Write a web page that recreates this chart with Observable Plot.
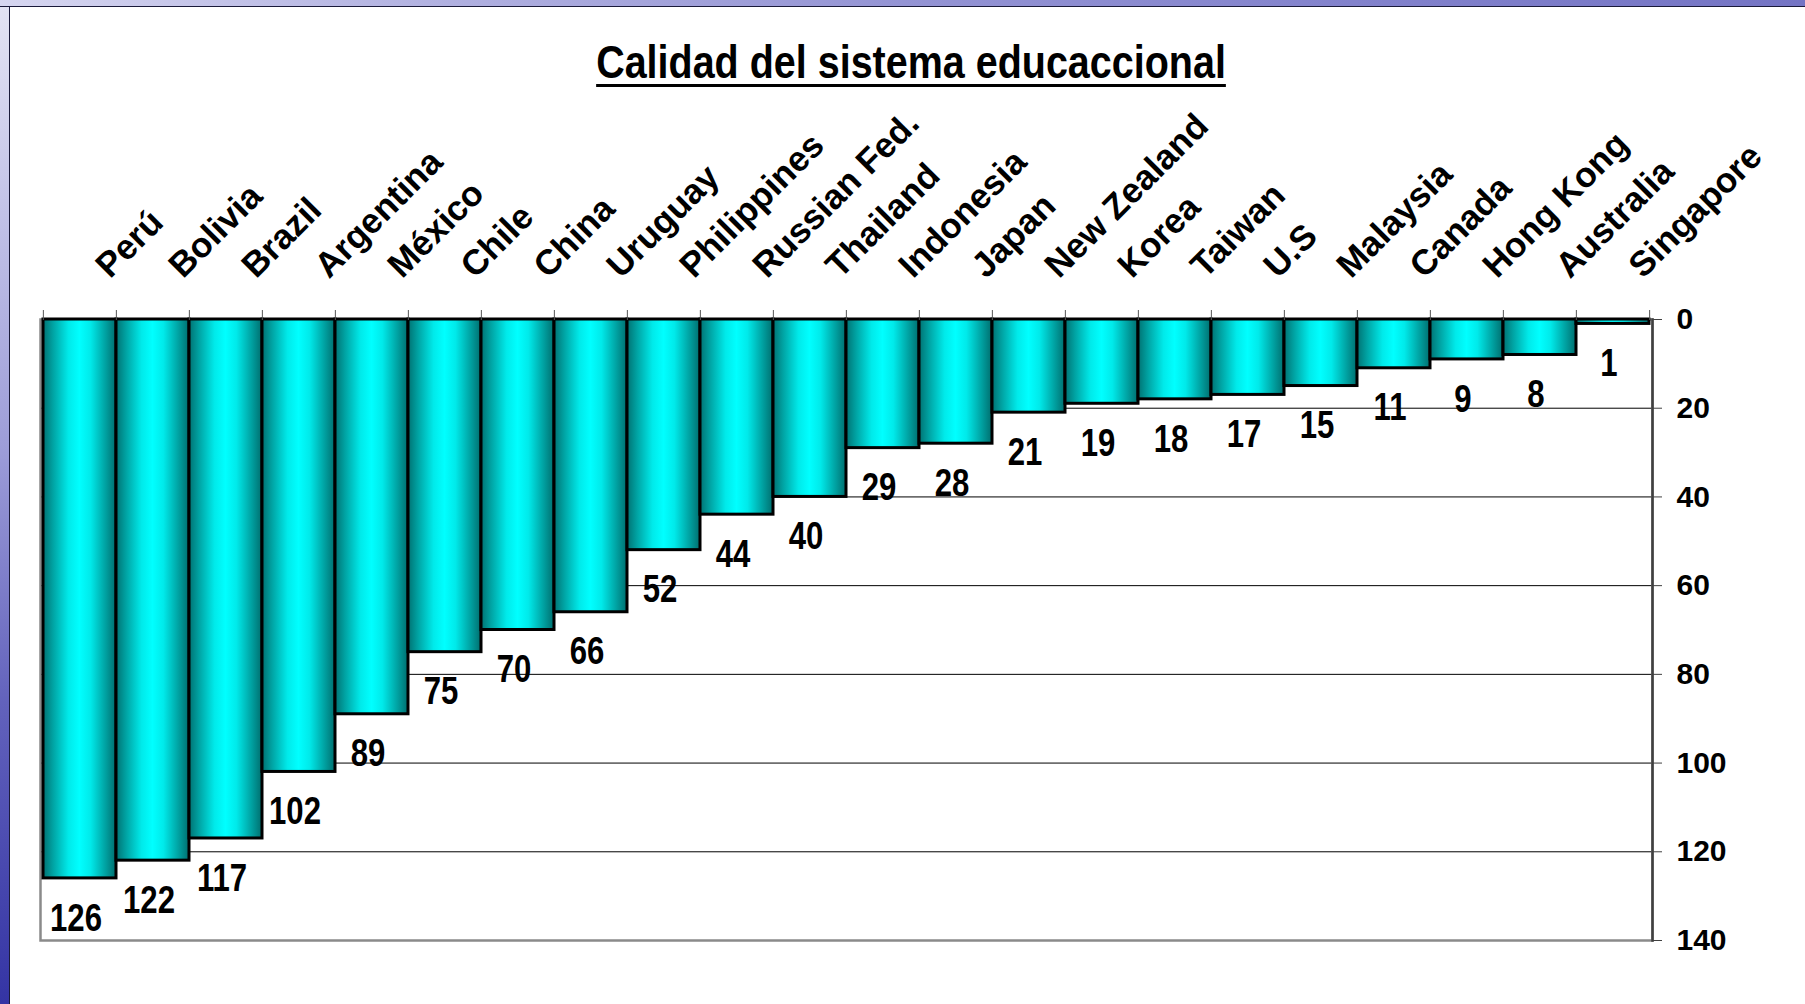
<!DOCTYPE html>
<html>
<head>
<meta charset="utf-8">
<script src="https://cdn.jsdelivr.net/npm/d3@7"></script>
<script src="https://cdn.jsdelivr.net/npm/@observablehq/plot@0.6"></script>
<style>
  html, body { margin: 0; padding: 0; background: #fff; }
  #wrap { position: relative; width: 1805px; height: 1004px; overflow: hidden; background: #fff; }
  #leftband { position: absolute; left: 0; top: 0; width: 9px; height: 1004px; z-index: 5;
    background: linear-gradient(to bottom, #e4e4f4 0%, #c4c4e8 20%, #9c9cd8 45%, #6262bc 70%, #3434a4 100%);
    border-right: 1.5px solid #1a1a3a; }
  #topband { position: absolute; left: 0; top: 0; width: 1805px; height: 6px; z-index: 6;
    background: linear-gradient(to right, #d6d6f0 0%, #b0b0e0 25%, #9494d4 50%, #8282cc 75%, #7474c4 100%);
    border-bottom: 1.5px solid #1a1a3a; }
  #titlebox { position: relative; height: 100px; }
  #titlebox span { position: absolute; left: 911px; top: 38px; transform: translateX(-50%) scaleX(0.84);
    white-space: nowrap; font-family: "Liberation Sans", Arial, sans-serif;
    font-weight: bold; font-size: 47px; line-height: 47px; color: #000;
    text-decoration: underline; text-decoration-thickness: 3px; text-underline-offset: 6px; }
  svg { display: block; }
</style>
</head>
<body>
<div id="wrap">
  <div id="leftband"></div>
  <div id="topband"></div>
  <div id="titlebox"><span>Calidad del sistema educaccional</span></div>
  <div id="chart"></div>
</div>
<script>
const countries = ["Perú","Bolivia","Brazil","Argentina","México","Chile","China","Uruguay","Philippines","Russian Fed.","Thailand","Indonesia","Japan","New Zealand","Korea","Taiwan","U.S","Malaysia","Canada","Hong Kong","Australia","Singapore"];
const ranks = [126,122,117,102,89,75,70,66,52,44,40,29,28,21,19,18,17,15,11,9,8,1];
const yTicks = [0,20,40,60,80,100,120,140];
const gridValues = [20,40,60,80,100,120];

const data = countries.map((c, i) => ({country: c, rank: ranks[i]}));

const W = 1805, H = 904, mL = 40, mR = 153, mT = 219, mB = 64;
const bw = (W - mL - mR) / countries.length;
const arial = '"Liberation Sans", Arial, sans-serif';

const chart = Plot.plot({
  width: W, height: H,
  marginLeft: mL, marginRight: mR, marginTop: mT, marginBottom: mB,
  style: {background: "transparent", overflow: "visible"},
  x: {domain: countries, padding: 0, axis: null, label: null},
  y: {domain: [0, 140], reverse: true, axis: null, label: null},
  marks: [
    Plot.ruleY(gridValues, {stroke: "#000", strokeWidth: 1}),
    Plot.frame({stroke: "#8a8a8a", strokeWidth: 2.5}),
    Plot.barY(data, {x: "country", y: "rank", fill: "url(#cyl)", stroke: "#000", strokeWidth: 3}),
    Plot.frame({anchor: "right", stroke: "#404040", strokeWidth: 2.5}),
    Plot.axisY(yTicks, {anchor: "right", label: null, tickSize: 9, tickPadding: 15, fontSize: 30, fontWeight: "bold", fontFamily: arial, stroke: "#404040"}),
    Plot.axisX({anchor: "top", label: null, tickSize: 10, tickFormat: () => "", dx: -bw / 2, stroke: "#555"}),
    Plot.axisX([countries[countries.length - 1]], {anchor: "top", label: null, tickSize: 10, tickFormat: () => "", dx: bw / 2, stroke: "#555"}),
    Plot.text(countries, {x: d => d, frameAnchor: "top", dx: 30, dy: -40, rotate: -45, textAnchor: "start", lineAnchor: "bottom",
      fontSize: 35, fontWeight: "bold", fontFamily: arial, fill: "#000"}),
    Plot.text(data, {x: "country", y: "rank", text: d => String(d.rank), dx: -4, dy: 40,
      fontSize: 38, fontWeight: "bold", fontFamily: arial, fill: "#000"})
  ]
});

const svg = d3.select(chart);
const defs = svg.insert("defs", ":first-child");
const grad = defs.append("linearGradient").attr("id", "cyl")
  .attr("x1", "0").attr("x2", "1").attr("y1", "0").attr("y2", "0");
[["0%", "#007272"], ["14%", "#00a4a4"], ["35%", "#00eaea"], ["50%", "#00ffff"], ["65%", "#00eaea"], ["86%", "#00a0a0"], ["100%", "#006e6e"]]
  .forEach(([o, c]) => grad.append("stop").attr("offset", o).attr("stop-color", c));

// emulate Arial Narrow Bold for the value labels by condensing horizontally
svg.selectAll('g[font-size="38"] text').each(function() {
  const t = d3.select(this);
  const tr = t.attr("transform");
  if (tr) {
    t.attr("transform", tr + " scale(0.82,1)");
  } else {
    const x = +t.attr("x") || 0, y = +t.attr("y") || 0;
    t.attr("x", null).attr("y", null).attr("transform", `translate(${x},${y}) scale(0.82,1)`);
  }
});

document.getElementById("chart").appendChild(chart);
</script>
</body>
</html>
